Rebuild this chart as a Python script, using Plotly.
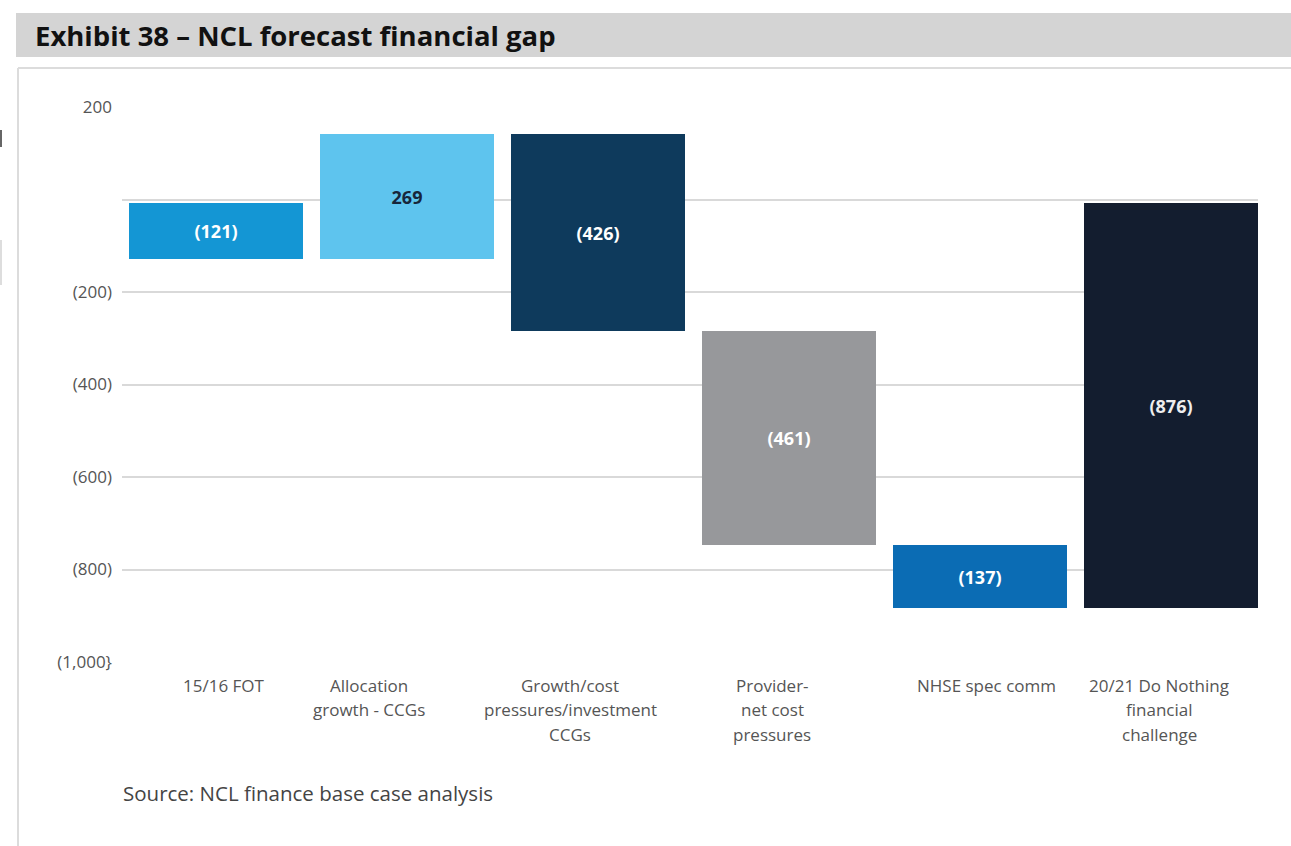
import plotly.graph_objects as go

# Waterfall data (£m)
categories = [
    "15/16 FOT",
    "Allocation<br>growth - CCGs",
    "Growth/cost<br>pressures/investment<br>CCGs",
    "Provider-<br>net cost<br>pressures",
    "NHSE spec comm",
    "20/21 Do Nothing<br>financial<br>challenge",
]
changes = [-121, 269, -426, -461, -137]
start_level = -7
value_labels = ["(121)", "269", "(426)", "(461)", "(137)", "(876)"]

y_tickvals = [200, 0, -200, -400, -600, -800, -1000]
y_ticktext = ["200", "", "(200)", "(400)", "(600)", "(800)", "(1,000}"]

bar_colors = ["#1496d4", "#5ec4ee", "#0e3a5c", "#97989b", "#0b6cb4", "#131d2f"]
text_colors = ["white", "#17263a", "white", "white", "white", "#eeeeee"]

# floating bars: each step starts where the previous one ended,
# the final total spans from the starting level to the end level
bases, heights = [], []
level = start_level
for c in changes:
    bases.append(level)
    heights.append(c)
    level += c
bases.append(start_level)
heights.append(level - start_level)

W, H = 1291, 846
px = lambda x: x / W
py = lambda y: 1 - y / H

x_idx = list(range(len(categories)))

fig = go.Figure()
fig.add_trace(go.Bar(
    x=x_idx,
    y=heights,
    base=bases,
    width=0.91,
    marker=dict(color=bar_colors, line=dict(width=0)),
    text=value_labels,
    textposition="inside",
    insidetextanchor="middle",
    textangle=0,
    textfont=dict(family="Open Sans", size=18, color=text_colors, weight="bold"),
    hoverinfo="skip",
))

fig.update_layout(
    width=W, height=H,
    margin=dict(l=0, r=0, t=0, b=0, autoexpand=False),
    paper_bgcolor="white",
    plot_bgcolor="white",
    showlegend=False,
    bargap=0,
    uniformtext=dict(minsize=8, mode="show"),
    font=dict(family="Open Sans", color="#555555"),
    xaxis=dict(
        domain=[px(122), px(1258)],
        range=[-0.492, 5.455],
        showticklabels=False,
        showgrid=False,
        zeroline=False,
        fixedrange=True,
        automargin=False,
    ),
    yaxis=dict(
        domain=[py(662), py(107)],
        range=[-1000, 200],
        tickvals=y_tickvals,
        ticktext=y_ticktext,
        tickfont=dict(size=17, color="#555555"),
        ticks="",
        ticklabelstandoff=9,
        showgrid=True,
        gridcolor="#d9d9d9",
        gridwidth=1.5,
        zeroline=False,
        showline=False,
        automargin=False,
    ),
)

# category labels under the axis, one annotation per text line
label_shift = [8, -38, -28, -17, 6, -12]
line_step = 24.5
for i, (cat, dx) in enumerate(zip(categories, label_shift)):
    for k, line in enumerate(cat.split("<br>")):
        fig.add_annotation(
            x=i, y=py(685 + k * line_step), xref="x", yref="paper",
            text=line, showarrow=False, xshift=dx,
            xanchor="center", yanchor="middle", align="center",
            font=dict(family="Open Sans", size=17, color="#555555"),
        )

# header band and frame
fig.add_shape(type="rect", xref="paper", yref="paper",
              x0=px(16), x1=1, y0=py(57), y1=py(13),
              fillcolor="#d4d4d4", line=dict(width=0), layer="below")
fig.add_shape(type="line", xref="paper", yref="paper",
              x0=px(18), x1=1, y0=py(68), y1=py(68),
              line=dict(color="#dcdcdc", width=2))
fig.add_shape(type="line", xref="paper", yref="paper",
              x0=px(18), x1=px(18), y0=py(68), y1=0,
              line=dict(color="#dcdcdc", width=2))
fig.add_shape(type="line", xref="paper", yref="paper",
              x0=px(1), x1=px(1), y0=py(130), y1=py(147),
              line=dict(color="#666666", width=2))
fig.add_shape(type="line", xref="paper", yref="paper",
              x0=px(1), x1=px(1), y0=py(240), y1=py(285),
              line=dict(color="#dddddd", width=2))

fig.add_annotation(
    x=px(33), y=py(36), xref="paper", yref="paper",
    text="<b>Exhibit 38 – NCL forecast financial gap</b>",
    showarrow=False, xanchor="left", yanchor="middle",
    font=dict(family="Open Sans", size=27.5, color="#111111"),
)
fig.add_annotation(
    x=px(121), y=py(793), xref="paper", yref="paper",
    text="Source: NCL finance base case analysis",
    showarrow=False, xanchor="left", yanchor="middle",
    font=dict(family="Open Sans", size=20.5, color="#444444"),
)

fig.write_html("out.html")
